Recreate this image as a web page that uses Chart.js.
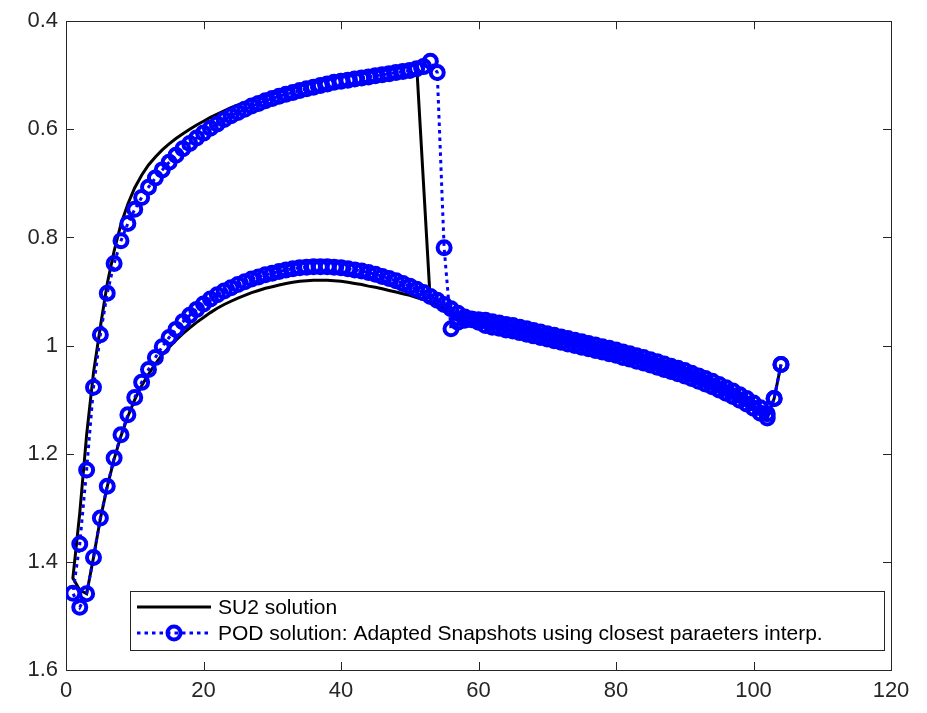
<!DOCTYPE html>
<html>
<head>
    <title>SU2 vs POD surface solution</title>
    <script src="https://cdn.jsdelivr.net/npm/chart.js@4/dist/chart.umd.min.js"></script>
    <style>
        body {
            margin: 0;
            background: #fff;
        }
        .graph-container {
            width: 927px;
            height: 713px;
            position: relative;
        }
    </style>
</head>
<body>
    <div class="graph-container">
        <canvas id="graph"></canvas>
    </div>

    <script>
        // Surface stations (point index along chord), shared by both surfaces
        const stations = Array.from({ length: 104 }, (_, i) => i + 1);

        // POD solution, upper surface (with the shock near station 54)
        const podUpper = [
            1.458, 1.367, 1.230, 1.077, 0.980, 0.903, 0.848, 0.806, 0.774, 0.748,
            0.726, 0.707, 0.690, 0.675, 0.661, 0.648, 0.636, 0.626, 0.616, 0.607,
            0.598, 0.590, 0.582, 0.575, 0.569, 0.563, 0.557, 0.552, 0.547, 0.543,
            0.539, 0.535, 0.532, 0.528, 0.525, 0.522, 0.519, 0.516, 0.513, 0.511,
            0.509, 0.507, 0.505, 0.503, 0.501, 0.499, 0.497, 0.495, 0.493, 0.491,
            0.488, 0.484, 0.474, 0.495, 0.819, 0.969, 0.957, 0.953, 0.951, 0.952,
            0.953, 0.956, 0.958, 0.961, 0.963, 0.966, 0.969, 0.972, 0.975, 0.978,
            0.981, 0.984, 0.987, 0.990, 0.993, 0.996, 0.999, 1.002, 1.005, 1.008,
            1.012, 1.015, 1.019, 1.022, 1.026, 1.030, 1.034, 1.038, 1.042, 1.046,
            1.051, 1.056, 1.061, 1.066, 1.072, 1.078, 1.084, 1.091, 1.098, 1.106,
            1.115, 1.134, 1.098, 1.035
        ];

        // POD solution, lower surface
        const podLower = [
            1.458, 1.484, 1.459, 1.392, 1.319, 1.260, 1.208, 1.165, 1.128, 1.096,
            1.068, 1.044, 1.022, 1.002, 0.985, 0.970, 0.956, 0.944, 0.933, 0.923,
            0.914, 0.906, 0.899, 0.893, 0.887, 0.882, 0.877, 0.873, 0.869, 0.866,
            0.863, 0.860, 0.858, 0.856, 0.855, 0.854, 0.854, 0.854, 0.855, 0.856,
            0.858, 0.860, 0.862, 0.865, 0.868, 0.872, 0.876, 0.880, 0.885, 0.890,
            0.896, 0.902, 0.909, 0.916, 0.924, 0.932, 0.940, 0.947, 0.952, 0.957,
            0.963, 0.966, 0.968, 0.971, 0.973, 0.976, 0.979, 0.982, 0.985, 0.988,
            0.991, 0.994, 0.997, 1.000, 1.003, 1.006, 1.009, 1.012, 1.015, 1.018,
            1.022, 1.025, 1.029, 1.032, 1.036, 1.040, 1.044, 1.048, 1.052, 1.056,
            1.061, 1.066, 1.071, 1.076, 1.082, 1.088, 1.094, 1.101, 1.108, 1.116,
            1.125, 1.126, 1.098, 1.035
        ];

        // SU2 reference solution, upper surface
        const su2Upper = [
            1.430, 1.310, 1.165, 1.050, 0.965, 0.885, 0.825, 0.775, 0.738, 0.708,
            0.685, 0.666, 0.651, 0.638, 0.627, 0.617, 0.608, 0.600, 0.592, 0.585,
            0.578, 0.572, 0.566, 0.560, 0.555, 0.550, 0.545, 0.541, 0.537, 0.533,
            0.529, 0.526, 0.522, 0.519, 0.516, 0.513, 0.510, 0.508, 0.505, 0.503,
            0.501, 0.499, 0.497, 0.495, 0.493, 0.491, 0.489, 0.487, 0.485, 0.483,
            0.480, 0.700, 0.920, 0.925, 0.931, 0.937, 0.943, 0.948, 0.952, 0.956,
            0.961, 0.964, 0.966, 0.969, 0.971, 0.974, 0.977, 0.980, 0.983, 0.986,
            0.989, 0.992, 0.995, 0.998, 1.001, 1.004, 1.007, 1.010, 1.013, 1.016,
            1.020, 1.023, 1.027, 1.030, 1.034, 1.038, 1.042, 1.046, 1.050, 1.054,
            1.059, 1.064, 1.069, 1.074, 1.080, 1.086, 1.092, 1.099, 1.106, 1.114,
            1.123, 1.133, 1.098, 1.035
        ];

        // SU2 reference solution, lower surface
        const su2Lower = [
            1.430, 1.452, 1.459, 1.392, 1.320, 1.261, 1.210, 1.167, 1.131, 1.100,
            1.074, 1.053, 1.034, 1.017, 1.003, 0.990, 0.978, 0.967, 0.957, 0.948,
            0.939, 0.931, 0.924, 0.918, 0.912, 0.907, 0.902, 0.898, 0.894, 0.891,
            0.888, 0.885, 0.883, 0.881, 0.880, 0.879, 0.879, 0.879, 0.880, 0.881,
            0.883, 0.885, 0.887, 0.890, 0.892, 0.895, 0.898, 0.901, 0.904, 0.907,
            0.911, 0.915, 0.920, 0.925, 0.931, 0.937, 0.943, 0.948, 0.952, 0.956,
            0.961, 0.964, 0.966, 0.969, 0.971, 0.974, 0.977, 0.980, 0.983, 0.986,
            0.989, 0.992, 0.995, 0.998, 1.001, 1.004, 1.007, 1.010, 1.013, 1.016,
            1.020, 1.023, 1.027, 1.030, 1.034, 1.038, 1.042, 1.046, 1.050, 1.054,
            1.059, 1.064, 1.069, 1.074, 1.080, 1.086, 1.092, 1.099, 1.106, 1.114,
            1.123, 1.133, 1.098, 1.035
        ];

        const xTicks = [0, 20, 40, 60, 80, 100, 120];
        const yTicks = [0.4, 0.6, 0.8, 1.0, 1.2, 1.4, 1.6];

        const seriesNames = [
            'SU2 solution',
            'POD solution: Adapted Snapshots using closest paraeters interp.'
        ];

        const axisColor = '#262626';
        const podColor = '#0000ff';
        const fontFamily = '"Liberation Sans", Arial, Helvetica, sans-serif';

        // Walk the lower surface from the trailing edge to the leading edge,
        // then the upper surface back to the trailing edge
        function surfacePath(lower, upper) {
            const pts = [];
            for (let i = lower.length - 1; i >= 1; i--) {
                pts.push({ x: stations[i], y: lower[i] });
            }
            for (let i = 0; i < upper.length; i++) {
                pts.push({ x: stations[i], y: upper[i] });
            }
            return pts;
        }

        // MATLAB-like frame with inward ticks on all four sides
        const framePlugin = {
            id: 'frame',
            beforeDatasetsDraw(chart) {
                const { ctx, chartArea: a, scales } = chart;
                const len = 8;
                ctx.save();
                ctx.strokeStyle = axisColor;
                ctx.lineWidth = 1;
                ctx.beginPath();
                xTicks.forEach(v => {
                    const px = Math.round(scales.x.getPixelForValue(v)) + 0.5;
                    ctx.moveTo(px, a.bottom);
                    ctx.lineTo(px, a.bottom - len);
                    ctx.moveTo(px, a.top);
                    ctx.lineTo(px, a.top + len);
                });
                yTicks.forEach(v => {
                    const py = Math.round(scales.y.getPixelForValue(v)) + 0.5;
                    ctx.moveTo(a.left, py);
                    ctx.lineTo(a.left + len, py);
                    ctx.moveTo(a.right, py);
                    ctx.lineTo(a.right - len, py);
                });
                ctx.stroke();
                ctx.strokeRect(Math.round(a.left) + 0.5, Math.round(a.top) + 0.5,
                    Math.round(a.right - a.left), Math.round(a.bottom - a.top));
                ctx.restore();
            }
        };

        // Boxed legend in the lower part of the axes
        const legendPlugin = {
            id: 'boxLegend',
            afterDraw(chart) {
                const { ctx } = chart;
                const box = { left: 130, top: 591, width: 754, height: 59 };
                const rows = [box.top + 16, box.top + 42];
                const x0 = box.left + 7, x1 = box.left + 81;
                ctx.save();
                ctx.fillStyle = '#fff';
                ctx.fillRect(box.left, box.top, box.width, box.height);
                ctx.strokeStyle = axisColor;
                ctx.lineWidth = 1;
                ctx.strokeRect(box.left + 0.5, box.top + 0.5, box.width, box.height);

                // SU2 sample
                ctx.strokeStyle = '#000';
                ctx.lineWidth = 3;
                ctx.beginPath();
                ctx.moveTo(x0, rows[0]);
                ctx.lineTo(x1, rows[0]);
                ctx.stroke();

                // POD sample
                ctx.strokeStyle = podColor;
                ctx.setLineDash([3.5, 4]);
                ctx.beginPath();
                ctx.moveTo(x0, rows[1]);
                ctx.lineTo(x1, rows[1]);
                ctx.stroke();
                ctx.setLineDash([]);
                ctx.lineWidth = 4;
                ctx.beginPath();
                ctx.arc((x0 + x1) / 2, rows[1], 6.5, 0, Math.PI * 2);
                ctx.stroke();

                ctx.fillStyle = '#000';
                ctx.font = '21px ' + fontFamily;
                ctx.textBaseline = 'middle';
                ctx.fillText(seriesNames[0], x1 + 7, rows[0] + 1);
                ctx.fillText(seriesNames[1], x1 + 7, rows[1] + 1);
                ctx.restore();
            }
        };

        const ctx = document.getElementById('graph').getContext('2d');

        const chart = new Chart(ctx, {
            type: 'scatter',
            data: {
                datasets: [
                    {
                        label: seriesNames[1],
                        data: surfacePath(podLower, podUpper),
                        showLine: true,
                        borderColor: podColor,
                        borderWidth: 3,
                        borderDash: [3.5, 4],
                        pointRadius: 6.5,
                        pointBorderWidth: 4,
                        pointBorderColor: podColor,
                        pointBackgroundColor: 'rgba(0,0,0,0)',
                        pointHoverRadius: 6.5
                    },
                    {
                        label: seriesNames[0],
                        data: surfacePath(su2Lower, su2Upper),
                        showLine: true,
                        borderColor: '#000',
                        borderWidth: 3,
                        pointRadius: 0
                    }
                ]
            },
            options: {
                responsive: true,
                maintainAspectRatio: false,
                animation: false,
                layout: {
                    padding: { top: 17, right: 36, left: 0, bottom: 0 }
                },
                plugins: {
                    legend: { display: false },
                    tooltip: { enabled: false }
                },
                scales: {
                    x: {
                        type: 'linear',
                        min: 0,
                        max: 120,
                        afterFit: s => { s.height = 43; },
                        afterBuildTicks: s => { s.ticks = xTicks.map(v => ({ value: v })); },
                        grid: { display: false, drawTicks: false },
                        border: { display: false },
                        ticks: {
                            color: axisColor,
                            padding: 8,
                            maxRotation: 0,
                            font: { family: fontFamily, size: 22 }
                        }
                    },
                    y: {
                        type: 'linear',
                        min: 0.4,
                        max: 1.6,
                        reverse: true,
                        afterFit: s => { s.width = 66; },
                        afterBuildTicks: s => { s.ticks = yTicks.map(v => ({ value: v })); },
                        grid: { display: false, drawTicks: false },
                        border: { display: false },
                        ticks: {
                            color: axisColor,
                            padding: 8,
                            font: { family: fontFamily, size: 22 },
                            callback: v => String(Math.round(v * 10) / 10)
                        }
                    }
                }
            },
            plugins: [framePlugin, legendPlugin]
        });
    </script>
</body>
</html>
